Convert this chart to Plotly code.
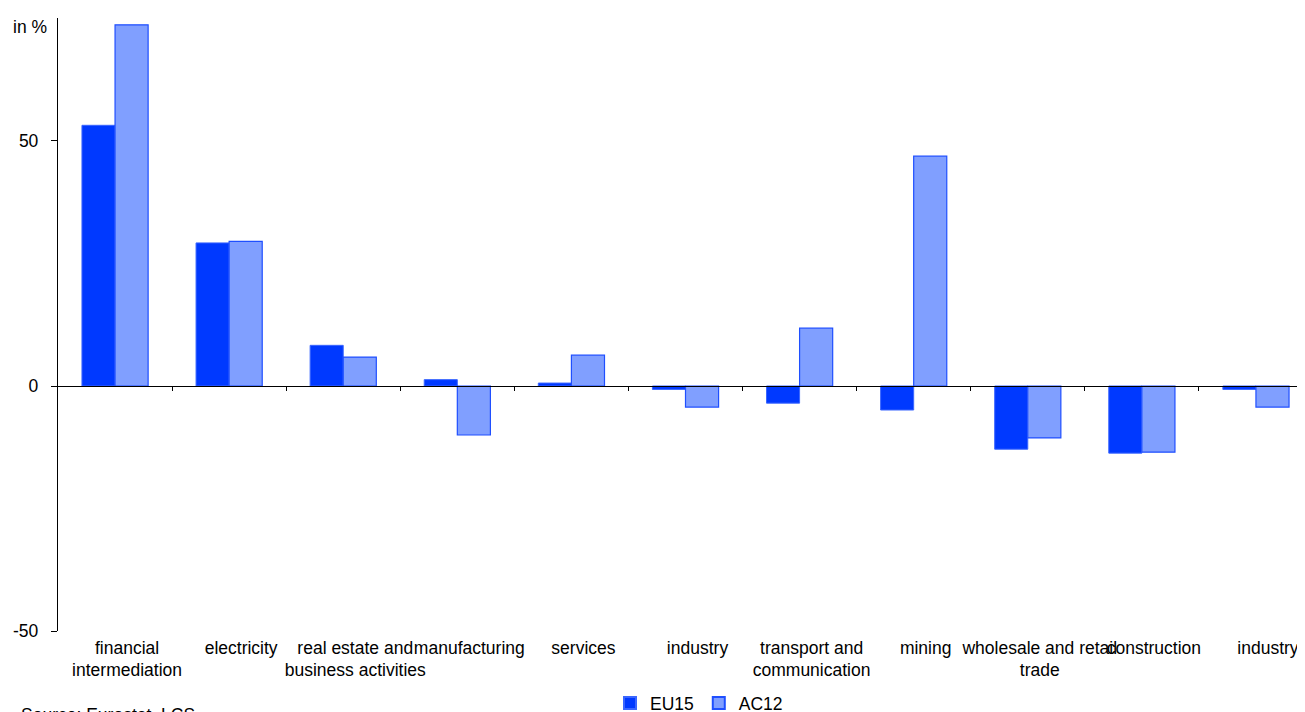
import plotly.graph_objects as go

categories = ["financial<br>intermediation", "electricity", "real estate and<br>business activities",
              "manufacturing", "services", "industry", "transport and<br>communication", "mining",
              "wholesale and retail<br>trade", "construction", "industry"]
eu15 = [53.2, 29.2, 8.3, 1.3, 0.6, -0.7, -3.5, -4.9, -12.9, -13.7, -0.7]
ac12 = [73.7, 29.5, 5.9, -10.0, 6.3, -4.3, 11.8, 46.9, -10.6, -13.5, -4.3]
yticks = [-50, 0, 50]
yticklabels = ["-50", "0", "50"]

pos = list(range(len(categories)))
bounds = [p + 0.5 for p in pos]

fig = go.Figure()
fig.add_trace(go.Bar(x=pos, y=eu15, name="EU15",
                     marker=dict(color="#0039FF", line=dict(color="#3A66FF", width=1))))
fig.add_trace(go.Bar(x=pos, y=ac12, name="AC12",
                     marker=dict(color="#809FFF", line=dict(color="#1F4FFF", width=1.2))))

font = "Liberation Sans, Arial, sans-serif"
fs = 17.5
yr = [-50, 75.1]
xr = [-0.5, 10.5]
fig.update_layout(
    width=1305, height=712,
    margin=dict(l=50, r=0, t=10, b=89, autoexpand=False),
    paper_bgcolor="white", plot_bgcolor="white",
    barmode="group", bargap=0.42, bargroupgap=0,
    font=dict(family=font, size=fs, color="black"),
    showlegend=True,
    legend=dict(orientation="h", xref="container", yref="container",
                x=602 / 1305, xanchor="left", y=1 - 677 / 712, yanchor="top",
                font=dict(size=fs), itemwidth=30, tracegroupgap=0,
                itemsizing="constant", bgcolor="rgba(0,0,0,0)"),
    xaxis=dict(range=xr, tickmode="array", tickvals=pos, ticktext=categories,
               ticks="", showline=False, showgrid=False, zeroline=False, automargin=False,
               tickfont=dict(size=fs), tickangle=0, ticklabelstandoff=4,
               ticklabelshift=12),
    xaxis2=dict(overlaying="x", anchor="free", position=50 / (yr[1] - yr[0]),
                range=xr, showticklabels=False, showline=True, automargin=False,
                linecolor="black", linewidth=1.3, showgrid=False, zeroline=False,
                tickmode="array", tickvals=bounds, ticks="outside", ticklen=4,
                tickcolor="black", tickwidth=1.3),
    yaxis=dict(range=yr, tickmode="array", tickvals=yticks, ticktext=yticklabels,
               ticks="outside", ticklen=6, automargin=False,
               tickwidth=1.3, tickcolor="black", showline=True, linecolor="black",
               linewidth=1.3, showgrid=False, zeroline=False, ticklabelstandoff=9,
               tickfont=dict(size=fs)),
    annotations=[
        dict(text="in %", xref="paper", yref="paper", x=-47 / 1255, y=1 - 9 / 613,
             xanchor="left", yanchor="middle", showarrow=False, font=dict(size=fs)),
        dict(text="Source: Eurostat, LCS", xref="paper", yref="paper", x=-39 / 1255,
             y=-(703 - 631) / 613, xanchor="left", yanchor="top", showarrow=False,
             font=dict(size=fs)),
    ],
)
fig.add_trace(go.Scatter(x=[None], y=[None], xaxis="x2", showlegend=False, hoverinfo="skip"))

fig.write_html("out.html")
